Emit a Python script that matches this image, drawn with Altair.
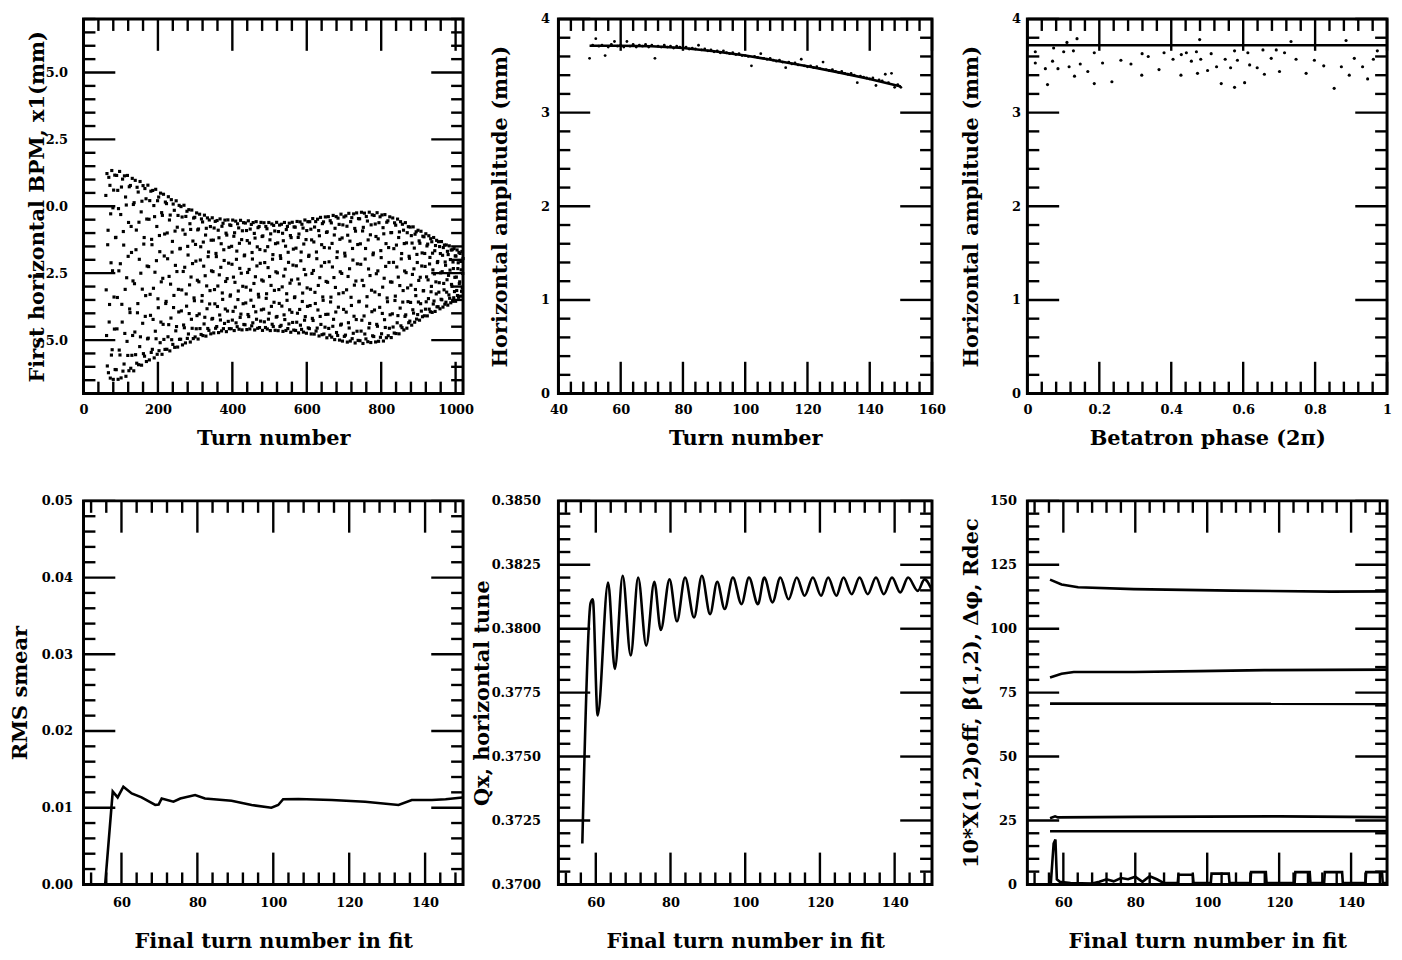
import altair as alt
import numpy as np
import pandas as pd

FONT = "DejaVu Serif"
MAJ, MIN, TW = 32, 12, 2.4
LW = 2.6

# ---------------- Panel 1: turn-by-turn BPM readings ----------------
# envelope of the dot band (mm)
p1_env_turn = [60, 70, 100, 150, 200, 250, 300, 350, 400, 450, 500, 550, 600, 650, 700, 750, 800, 850, 900, 950, 1000, 1020]
p1_env_upper = [1.30, 1.35, 1.30, 0.95, 0.60, 0.20, -0.20, -0.45, -0.50, -0.55, -0.60, -0.60, -0.50, -0.37, -0.28, -0.20, -0.25, -0.50, -0.87, -1.23, -1.60, -1.70]
p1_env_lower = [-6.50, -6.50, -6.50, -6.00, -5.60, -5.30, -5.00, -4.76, -4.65, -4.62, -4.65, -4.70, -4.76, -4.90, -5.08, -5.13, -5.08, -4.76, -4.28, -3.90, -3.55, -3.30]
p1_tune = 0.3815          # horizontal tune
p1_first_turn, p1_last_turn = 60, 1020
p1_xmaj = [0, 200, 400, 600, 800, 1000]
p1_ymaj = [-5.0, -2.5, 0.0, 2.5, 5.0]

# ---------------- Panel 2: amplitude vs turn ----------------
p2_turn = list(range(50, 151))
p2_amp = [3.58, 3.72, 3.79, 3.71, 3.72, 3.61, 3.70, 3.73, 3.76, 3.71,
          3.72, 3.70, 3.76, 3.71, 3.73, 3.70, 3.72, 3.71, 3.73, 3.70,
          3.72, 3.58, 3.71, 3.70, 3.72, 3.70, 3.71, 3.69, 3.71, 3.70,
          3.69, 3.70, 3.68, 3.69, 3.68, 3.72, 3.67, 3.68, 3.66, 3.67,
          3.65, 3.66, 3.64, 3.66, 3.64, 3.63, 3.64, 3.62, 3.63, 3.61,
          3.61, 3.60, 3.50, 3.60, 3.59, 3.63, 3.58, 3.57, 3.58, 3.56,
          3.55, 3.56, 3.54, 3.48, 3.54, 3.52, 3.53, 3.51, 3.57, 3.50,
          3.49, 3.50, 3.48, 3.49, 3.47, 3.54, 3.46, 3.45, 3.46, 3.44,
          3.43, 3.44, 3.42, 3.41, 3.42, 3.40, 3.32, 3.39, 3.38, 3.37,
          3.36, 3.37, 3.29, 3.35, 3.34, 3.41, 3.32, 3.42, 3.27, 3.30, 3.27]
p2_fit_turn = [50, 60, 70, 80, 90, 100, 110, 120, 130, 140, 150]
p2_fit_amp = [3.715, 3.715, 3.71, 3.69, 3.655, 3.61, 3.555, 3.495, 3.43, 3.36, 3.28]
p2_xmaj = [40, 60, 80, 100, 120, 140, 160]
amp_ymaj = [0, 1, 2, 3, 4]

# ---------------- Panel 3: amplitude vs betatron phase ----------------
p3_phase = [0.138, 0.479, 0.733, 0.886, 0.110, 0.101, 0.128, 0.186, 0.319, 0.336, 0.380, 0.405, 0.428, 0.442,
            0.470, 0.511, 0.576, 0.613, 0.655, 0.692, 0.715, 0.973, 0.070, 0.147, 0.209, 0.260, 0.288, 0.456,
            0.482, 0.550, 0.584, 0.678, 0.747, 0.798, 0.909, 0.962, 0.022, 0.050, 0.085, 0.116, 0.168, 0.131,
            0.366, 0.318, 0.427, 0.473, 0.501, 0.526, 0.565, 0.618, 0.639, 0.659, 0.701, 0.775, 0.824, 0.873,
            0.895, 0.932, 0.946, 0.056, 0.186, 0.235, 0.539, 0.576, 0.604, 0.853, 0.022, 0.073]
p3_amp = [3.79, 3.78, 3.76, 3.77, 3.75, 3.65, 3.66, 3.64, 3.63, 3.60, 3.64, 3.57, 3.62, 3.64,
          3.65, 3.63, 3.66, 3.64, 3.67, 3.67, 3.64, 3.66, 3.55, 3.52, 3.53, 3.56, 3.52, 3.55,
          3.57, 3.57, 3.56, 3.58, 3.57, 3.56, 3.58, 3.57, 3.53, 3.47, 3.47, 3.49, 3.44, 3.39,
          3.46, 3.40, 3.40, 3.42, 3.45, 3.49, 3.48, 3.51, 3.48, 3.41, 3.44, 3.42, 3.50, 3.49,
          3.40, 3.49, 3.36, 3.30, 3.31, 3.33, 3.31, 3.27, 3.32, 3.26, 3.65, 3.69]
p3_fit_amp = [3.72]
p3_xmaj = [0, 0.2, 0.4, 0.6, 0.8, 1.0]

# ---------------- Panel 4: RMS smear ----------------
p4_turn = [55.7, 57.7, 59.0, 60.5, 62.7, 65.3, 68.9, 69.8, 70.6, 73.7, 75.5, 79.4, 82.0, 89.0, 94.3,
           99.5, 101.3, 102.6, 106.6, 115.4, 124.2, 133.0, 136.5, 141.8, 145.4, 149.8]
p4_smear = [0.0, 0.0121, 0.01134, 0.01273, 0.01186, 0.01134, 0.01035, 0.0104, 0.0112, 0.01078, 0.0112,
            0.01165, 0.0112, 0.0109, 0.01035, 0.0100, 0.01035, 0.0111, 0.01113, 0.0110, 0.01078, 0.01035,
            0.0110, 0.0110, 0.0111, 0.01134]
fit_xmaj = [60, 80, 100, 120, 140]
p4_ymaj = [0.00, 0.01, 0.02, 0.03, 0.04, 0.05]

# ---------------- Panel 5: horizontal tune ----------------
p5_turn = [56.4, 58.6, 59.2, 60.5, 63.3, 65.1, 67.2, 69.35, 71.34, 73.5, 75.67, 77.4, 79.74, 81.73, 83.9,
           86.3, 88.4, 90.6, 92.5, 94.5, 96.7, 99.0, 101.0, 103.4, 105.1, 107.3, 109.4, 111.6, 113.8,
           115.9, 118.1, 120.3, 122.2, 124.4, 126.3, 128.5, 130.6, 132.8, 135.0, 137.1, 139.3, 141.5,
           143.6, 146.2, 148.0, 150.0]
p5_q = [0.3716, 0.3810, 0.38115, 0.37661, 0.38181, 0.37843, 0.38207, 0.37895, 0.3820, 0.37934, 0.38184,
        0.37995, 0.38193, 0.38029, 0.3820, 0.38044, 0.38207, 0.38057, 0.38184, 0.38077, 0.3820, 0.38096,
        0.3820, 0.38096, 0.3820, 0.38103, 0.3820, 0.38115, 0.3820, 0.38129, 0.3820, 0.38129, 0.3820,
        0.38129, 0.3820, 0.38135, 0.3820, 0.38135, 0.3820, 0.38135, 0.3820, 0.38142, 0.3820, 0.38148,
        0.38193, 0.3815]
p5_ymaj = [0.3700, 0.3725, 0.3750, 0.3775, 0.3800, 0.3825, 0.3850]

# ---------------- Panel 6: fit parameters ----------------
p6_a_turn = [56.3, 59.5, 64.1, 79.6, 107.0, 134.5, 150.0]
p6_a_val = [119.2, 117.3, 116.2, 115.5, 114.9, 114.5, 114.6]
p6_b_turn = [56.3, 59.5, 62.9, 79.6, 97.7, 115.9, 150.0]
p6_b_val = [80.9, 82.4, 83.1, 83.1, 83.4, 83.8, 84.0]
p6_c_turn = [56.3, 150.0]
p6_c_val = [70.7, 70.6]
p6_d_turn = [56.3, 57.7, 58.5, 80.0, 120.0, 150.0]
p6_d_val = [25.9, 26.6, 26.2, 26.4, 26.6, 26.3]
p6_e_turn = [56.3, 150.0]
p6_e_val = [20.8, 20.8]
p6_f_turn = [56.5, 57.3, 57.8, 58.2, 59, 62, 68, 70, 72, 74, 76, 78, 80, 82, 84, 86, 88, 91.8, 92, 96,
             96.2, 101, 101.2, 106, 106.2, 112, 112.2, 116.3, 116.5, 124.3, 124.5, 128.5, 128.7, 132.5,
             132.7, 137.5, 137.7, 144, 144.2, 148.6, 148.8, 150]
p6_f_val = [0, 16, 17.5, 2, 1, 0.5, 0.3, 1.0, 2.0, 1.2, 2.5, 2.0, 3.0, 1.0, 3.2, 2.0, 0.5, 0.5, 3.8, 3.8,
            0.5, 0.5, 4.2, 4.2, 0.5, 0.5, 4.8, 4.8, 0.5, 0.5, 4.8, 4.8, 0.5, 0.5, 4.8, 4.8, 0.5, 0.5,
            4.8, 4.8, 0.5, 0.5]
p6_ymaj = [0, 25, 50, 75, 100, 125, 150]


def minors(lo, hi, step, majors):
    vals = np.round(np.arange(lo, hi + step / 2, step), 6)
    return [float(v) for v in vals if all(abs(v - m) > step / 10 for m in majors)]


def tick_layer(vals, ch, side, length, scale, w, h):
    df = pd.DataFrame({"t": vals})
    m = alt.Chart(df).mark_rule(color="black", strokeWidth=TW)
    if ch == "x":
        enc = {"x": alt.X("t:Q", scale=scale)}
        if side == "bottom":
            enc["y"], enc["y2"] = alt.value(h), alt.value(h - length)
        else:
            enc["y"], enc["y2"] = alt.value(0), alt.value(length)
    else:
        enc = {"y": alt.Y("t:Q", scale=scale)}
        if side == "left":
            enc["x"], enc["x2"] = alt.value(0), alt.value(length)
        else:
            enc["x"], enc["x2"] = alt.value(w), alt.value(w - length)
    return m.encode(**enc)


def xaxis(values, fmt, title, lp, tp):
    return alt.Axis(values=values, format=fmt, title=title, labelPadding=lp, titlePadding=tp,
                    minExtent=25, maxExtent=25, ticks=False, tickSize=0, domain=False, grid=False,
                    labelFlush=False, labelOverlap=False, orient="bottom")


def yaxis(values, fmt, title, lp, tp):
    return alt.Axis(values=values, format=fmt, title=title, labelPadding=lp, titlePadding=tp,
                    minExtent=30, maxExtent=30, ticks=False, tickSize=0, domain=False, grid=False,
                    labelFlush=False, labelOverlap=False, orient="left")


def panel(layers, w, h, xs, ys, xmaj, xmin, ymaj, ymin):
    t = []
    for side in ("bottom", "top"):
        t.append(tick_layer(xmaj, "x", side, MAJ, xs, w, h))
        t.append(tick_layer(xmin, "x", side, MIN, xs, w, h))
    for side in ("left", "right"):
        t.append(tick_layer(ymaj, "y", side, MAJ, ys, w, h))
        t.append(tick_layer(ymin, "y", side, MIN, ys, w, h))
    return alt.layer(*layers, *t).properties(width=w, height=h)


W1, W2, W3 = 382, 376, 362
H1, H2 = 377, 386
R1_LP, R1_TP = 10, 9
R2_LP, R2_TP = 12, 22

# ---- Panel 1
n = np.arange(p1_first_turn, p1_last_turn + 1)
up = np.interp(n, p1_env_turn, p1_env_upper)
lo = np.interp(n, p1_env_turn, p1_env_lower)
pos = (up + lo) / 2 + (up - lo) / 2 * np.cos(2 * np.pi * p1_tune * n)
df1 = pd.DataFrame({"turn": n, "x1": pos})
xs1 = alt.Scale(domain=[0, 1020], nice=False, zero=False)
ys1 = alt.Scale(domain=[-7, 7], nice=False, zero=False)
l1 = alt.Chart(df1).mark_square(size=10, color="black", opacity=1).encode(
    x=alt.X("turn:Q", scale=xs1, axis=xaxis(p1_xmaj, "d", "Turn number", R1_LP, R1_TP)),
    y=alt.Y("x1:Q", scale=ys1, axis=yaxis(p1_ymaj, ".1f", "First horizontal BPM, x1(mm)", 16, 6.5)),
)
c1 = panel([l1], W1, H1, xs1, ys1, p1_xmaj, minors(0, 1000, 40, p1_xmaj), p1_ymaj, minors(-7, 7, 0.5, p1_ymaj))

# ---- Panel 2
df2 = pd.DataFrame({"turn": p2_turn, "amp": p2_amp})
df2f = pd.DataFrame({"turn": p2_fit_turn, "amp": p2_fit_amp})
xs2 = alt.Scale(domain=[40, 160], nice=False, zero=False)
ys2 = alt.Scale(domain=[0, 4], nice=False, zero=False)
l2a = alt.Chart(df2).mark_circle(size=8, color="black", opacity=1).encode(
    x=alt.X("turn:Q", scale=xs2, axis=xaxis(p2_xmaj, "d", "Turn number", R1_LP, R1_TP)),
    y=alt.Y("amp:Q", scale=ys2, axis=yaxis(amp_ymaj, "d", "Horizontal amplitude (mm)", 9, 18)),
)
l2b = alt.Chart(df2f).mark_line(color="black", strokeWidth=LW).encode(
    x=alt.X("turn:Q", scale=xs2), y=alt.Y("amp:Q", scale=ys2))
c2 = panel([l2a, l2b], W2, H1, xs2, ys2, p2_xmaj, minors(40, 160, 4, p2_xmaj), amp_ymaj, minors(0, 4, 0.2, amp_ymaj))

# ---- Panel 3
df3 = pd.DataFrame({"phase": p3_phase, "amp": p3_amp})
df3f = pd.DataFrame({"amp": p3_fit_amp})
xs3 = alt.Scale(domain=[0, 1], nice=False, zero=False)
l3a = alt.Chart(df3).mark_circle(size=10, color="black", opacity=1).encode(
    x=alt.X("phase:Q", scale=xs3, axis=xaxis(p3_xmaj, "~g", "Betatron phase (2π)", R1_LP, R1_TP)),
    y=alt.Y("amp:Q", scale=ys2, axis=yaxis(amp_ymaj, "d", "Horizontal amplitude (mm)", 7, 16)),
)
l3b = alt.Chart(df3f).mark_rule(color="black", strokeWidth=LW).encode(
    y=alt.Y("amp:Q", scale=ys2))
c3 = panel([l3a, l3b], W3, H1, xs3, ys2, p3_xmaj, minors(0, 1, 0.04, p3_xmaj), amp_ymaj, minors(0, 4, 0.2, amp_ymaj))

# ---- Panel 4
xsf = alt.Scale(domain=[50, 150], nice=False, zero=False)
fit_xmin = minors(52, 148, 4, fit_xmaj)
df4 = pd.DataFrame({"turn": p4_turn, "s": p4_smear})
ys4 = alt.Scale(domain=[0, 0.05], nice=False, zero=False)
l4 = alt.Chart(df4).mark_line(color="black", strokeWidth=LW).encode(
    x=alt.X("turn:Q", scale=xsf, axis=xaxis(fit_xmaj, "d", "Final turn number in fit", R2_LP, R2_TP)),
    y=alt.Y("s:Q", scale=ys4, axis=yaxis(p4_ymaj, ".2f", "RMS smear", 11, 23.5)),
)
c4 = panel([l4], W1, H2, xsf, ys4, fit_xmaj, fit_xmin, p4_ymaj, minors(0, 0.05, 0.002, p4_ymaj))

# ---- Panel 5
df5 = pd.DataFrame({"turn": p5_turn, "q": p5_q})
ys5 = alt.Scale(domain=[0.37, 0.385], nice=False, zero=False)
l5 = alt.Chart(df5).mark_line(color="black", strokeWidth=LW, interpolate="monotone").encode(
    x=alt.X("turn:Q", scale=xsf, axis=xaxis(fit_xmaj, "d", "Final turn number in fit", R2_LP, R2_TP)),
    y=alt.Y("q:Q", scale=ys5, axis=yaxis(p5_ymaj, ".4f", "Qx,  horizontal tune", 18, 36)),
)
c5 = panel([l5], W2, H2, xsf, ys5, fit_xmaj, fit_xmin, p5_ymaj, minors(0.37, 0.385, 0.0005, p5_ymaj))

# ---- Panel 6
rows = []
for name, tt, vv in [("a", p6_a_turn, p6_a_val), ("b", p6_b_turn, p6_b_val), ("c", p6_c_turn, p6_c_val),
                     ("d", p6_d_turn, p6_d_val), ("e", p6_e_turn, p6_e_val), ("f", p6_f_turn, p6_f_val)]:
    rows.append(pd.DataFrame({"turn": tt, "v": vv, "s": name}))
df6 = pd.concat(rows, ignore_index=True)
ys6 = alt.Scale(domain=[0, 150], nice=False, zero=False)
l6 = alt.Chart(df6).mark_line(color="black", strokeWidth=LW).encode(
    x=alt.X("turn:Q", scale=xsf, axis=xaxis(fit_xmaj, "d", "Final turn number in fit", R2_LP, R2_TP)),
    y=alt.Y("v:Q", scale=ys6, axis=yaxis(p6_ymaj, "d", "10*X(1,2)off, β(1,2), Δφ, Rdec", 11, 16)),
    detail="s:N",
)
c6 = panel([l6], W3, H2, xsf, ys6, fit_xmaj, fit_xmin, p6_ymaj, minors(0, 150, 5, p6_ymaj))

chart = alt.concat(c1, c2, c3, c4, c5, c6, columns=3, spacing={"row": 108, "column": 96},
                   bounds="flush", align="each").properties(padding=0)
chart = chart.configure_view(stroke="black", strokeWidth=3).configure_axis(
    labelFont=FONT, labelFontSize=13, labelFontWeight="bold", labelColor="black",
    titleFont=FONT, titleFontSize=21, titleFontWeight="bold", titleColor="black")

chart.save("out.html", embed_options={"renderer": "svg", "actions": False})
